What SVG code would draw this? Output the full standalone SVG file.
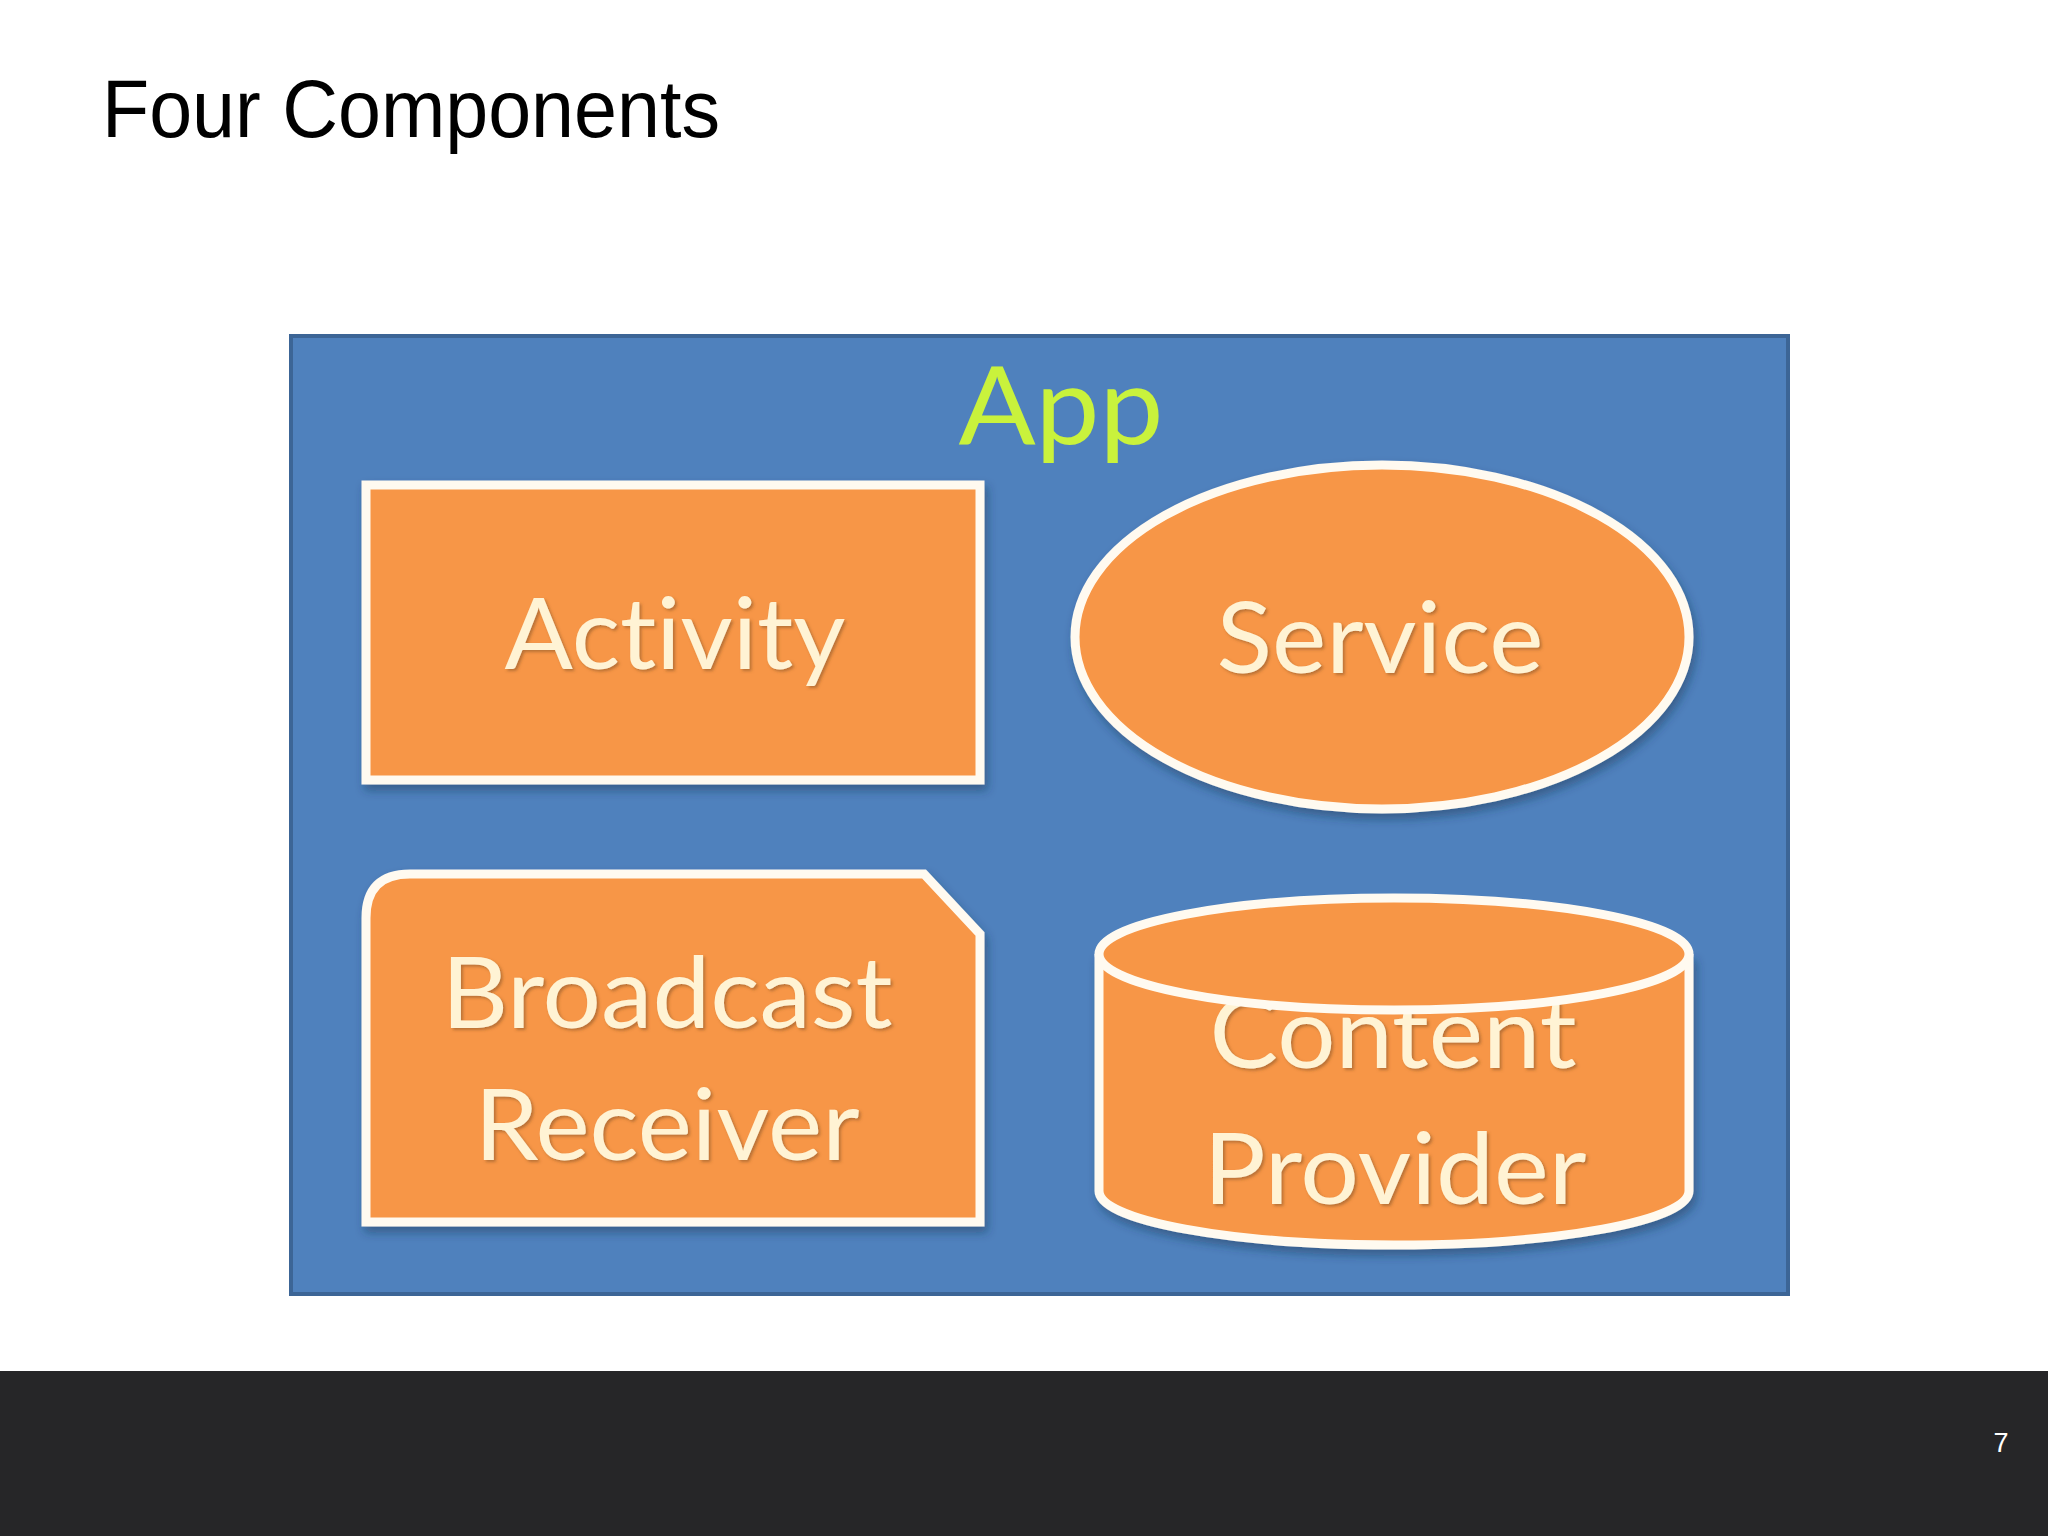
<svg xmlns="http://www.w3.org/2000/svg" width="2048" height="1536" viewBox="0 0 2048 1536">
<style>
.title{font-family:"Liberation Sans","DejaVu Sans",sans-serif;font-size:82px;fill:#000}
.lbl{font-family:Lato,"Open Sans","Liberation Sans",sans-serif;font-size:98px;fill:#fff3d4;text-anchor:middle;font-variant-ligatures:none;font-feature-settings:"liga" 0}
.shape{fill:#f79646;stroke:#fffaf0;stroke-width:9}
.pg{font-family:"Liberation Sans",sans-serif;font-size:27px;fill:#fff;text-anchor:middle}
</style>
<defs>
<filter id="sh" x="-10%" y="-10%" width="120%" height="130%">
<feDropShadow dx="3" dy="6" stdDeviation="5" flood-color="#1f3550" flood-opacity="0.45"/>
</filter>
<filter id="tsh" x="-5%" y="-10%" width="110%" height="130%">
<feDropShadow dx="2" dy="2" stdDeviation="1.5" flood-color="#7a4a20" flood-opacity="0.5"/>
</filter>
</defs>
<rect width="2048" height="1536" fill="#ffffff"/>
<text class="title" x="102" y="137" textLength="618" lengthAdjust="spacingAndGlyphs">Four Components</text>

<g id="app">
<rect x="291" y="336" width="1497" height="958" fill="#4f81bd" stroke="#3c6596" stroke-width="4"/>
<text x="1061" y="444" font-family="Lato,'Open Sans','Liberation Sans',sans-serif" font-size="108" fill="#c9f23c" text-anchor="middle" textLength="205" lengthAdjust="spacingAndGlyphs">App</text>
</g>

<g id="activity">
<rect class="shape" x="366" y="485" width="614" height="295" filter="url(#sh)"/>
<text class="lbl" x="675" y="669" textLength="341" lengthAdjust="spacingAndGlyphs" filter="url(#tsh)">Activity</text>
</g>

<g id="service">
<ellipse class="shape" cx="1382" cy="637" rx="307" ry="172" filter="url(#sh)"/>
<text class="lbl" x="1380" y="673" textLength="327" lengthAdjust="spacingAndGlyphs" filter="url(#tsh)">Service</text>
</g>

<g id="broadcast-receiver">
<path class="shape" d="M366,1222 V918 Q366,874 410,874 H924 L980,934 V1222 Z" filter="url(#sh)"/>
<text class="lbl" x="667" y="1028" textLength="451" lengthAdjust="spacingAndGlyphs" filter="url(#tsh)">Broadcast</text>
<text class="lbl" x="667" y="1160" textLength="385" lengthAdjust="spacingAndGlyphs" filter="url(#tsh)">Receiver</text>
</g>

<g id="content-provider">
<path class="shape" d="M1099,954 V1191 A295,54 0 0 0 1689,1191 V954" filter="url(#sh)"/>
<text class="lbl" x="1393" y="1068" textLength="367" lengthAdjust="spacingAndGlyphs" filter="url(#tsh)">Content</text>
<text class="lbl" x="1395" y="1204" textLength="383" lengthAdjust="spacingAndGlyphs" filter="url(#tsh)">Provider</text>
<ellipse class="shape" cx="1394" cy="954" rx="295" ry="56"/>
</g>

<g id="connectors"></g>

<rect x="0" y="1371" width="2048" height="165" fill="#262628"/>
<text class="pg" x="2001" y="1452">7</text>
</svg>
